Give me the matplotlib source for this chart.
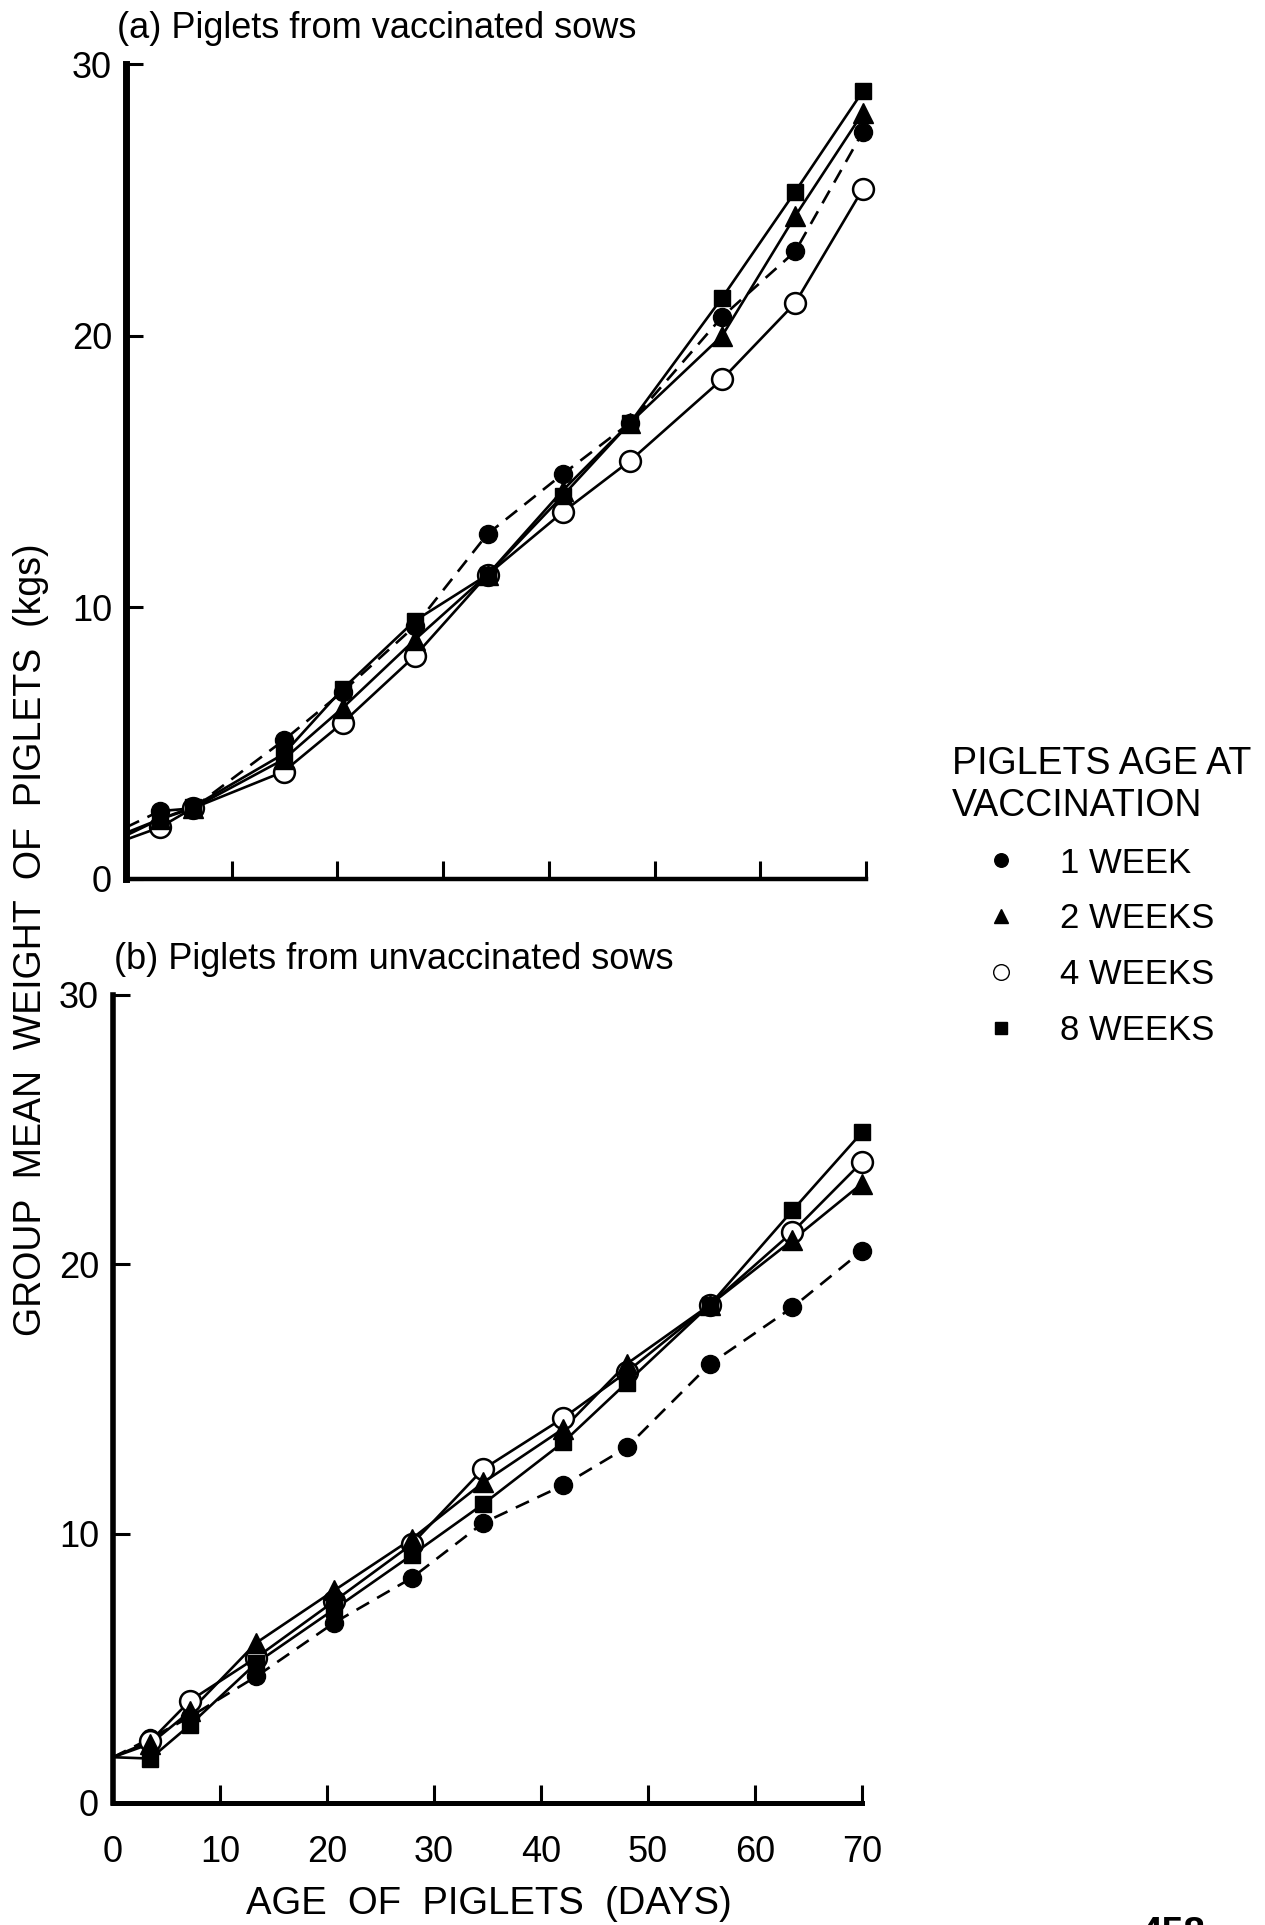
import matplotlib
matplotlib.use("Agg")
import matplotlib.pyplot as plt
from matplotlib.lines import Line2D

plt.rcParams['font.family'] = ['Liberation Sans', 'DejaVu Sans']
NARROW = ['Liberation Sans Narrow', 'Liberation Sans', 'DejaVu Sans']

# ---- data: group mean weight (kg) by age of piglets (days) ----
groups = ["1 WEEK", "2 WEEKS", "4 WEEKS", "8 WEEKS"]

# (a) piglets from vaccinated sows
days_a = [0, 3.2, 6.3, 14.9, 20.5, 27.3, 34.2, 41.3, 47.7, 56.4, 63.3, 69.7]
wk1_a = [1.9, 2.5, 2.6, 5.1, 6.9, 9.3, 12.7, 14.9, 16.8, 20.7, 23.1, 27.5]
wk2_a = [1.7, 2.2, 2.6, 4.4, 6.3, 8.8, 11.2, 14.3, 16.8, 20.0, 24.4, 28.2]
wk4_a = [1.45, 1.9, 2.6, 3.95, 5.75, 8.2, 11.2, 13.5, 15.4, 18.4, 21.2, 25.4]
wk8_a = [1.6, 2.2, 2.65, 4.6, 7.0, 9.5, 11.2, 14.1, 16.8, 21.4, 25.3, 29.0]

# (b) piglets from unvaccinated sows
days_b = [0, 3.5, 7.2, 13.4, 20.7, 27.9, 34.6, 42.1, 48.0, 55.8, 63.5, 70.0]
wk1_b = [1.7, 2.4, 3.2, 4.7, 6.7, 8.35, 10.4, 11.8, 13.2, 16.3, 18.4, 20.5]
wk2_b = [1.7, 2.2, 3.4, 5.95, 7.9, 9.8, 11.9, 13.9, 16.3, 18.5, 20.9, 23.0]
wk4_b = [1.7, 2.3, 3.8, 5.4, 7.5, 9.6, 12.4, 14.3, 16.0, 18.5, 21.2, 23.8]
wk8_b = [1.7, 1.65, 2.9, 5.2, 7.2, 9.2, 11.1, 13.4, 15.6, 18.5, 22.0, 24.9]

x_ticks = [0, 10, 20, 30, 40, 50, 60, 70]
y_ticks = [0, 10, 20, 30]

# marker / line style per group
styles = {
    "1 WEEK": dict(marker='o', ms=13, mfc='black', mec='black', ls=(0, (5.5, 3.5))),
    "2 WEEKS": dict(marker='^', ms=14, mfc='black', mec='black', ls='-'),
    "4 WEEKS": dict(marker='o', ms=15, mfc='white', mec='black', mew=1.8, ls='-'),
    "8 WEEKS": dict(marker='s', ms=12, mfc='black', mec='black', ls='-'),
}
draw_order = ["1 WEEK", "4 WEEKS", "2 WEEKS", "8 WEEKS"]

W, H = 1265, 1925
fig = plt.figure(figsize=(W / 100, H / 100), dpi=100)


def panel(rect, days, series, spine_w, show_xlabels):
    ax = fig.add_axes(rect)
    for name in draw_order:
        st = dict(styles[name])
        ls = st.pop('ls')
        # first value (day 0) is drawn as line only
        ax.plot(days, series[name], color='black', lw=1.9, ls=ls,
                marker='none', clip_on=False, zorder=2)
        ax.plot(days[1:], series[name][1:], color='black', ls='none',
                clip_on=False, zorder=3, **st)
    ax.set_xlim(0, 70)
    ax.set_ylim(0, 30)
    for s in ('top', 'right'):
        ax.spines[s].set_visible(False)
    ax.spines['left'].set_linewidth(spine_w[0])
    ax.spines['bottom'].set_linewidth(spine_w[1])
    ax.set_xticks(x_ticks)
    ax.set_yticks(y_ticks)
    ax.tick_params(axis='x', direction='in', length=13, width=2.2,
                   pad=23, labelsize=26)
    ax.tick_params(axis='y', direction='in', length=12, width=2.2,
                   pad=10, labelsize=26)
    for lab in ax.get_yticklabels() + ax.get_xticklabels():
        lab.set_family(NARROW)
    if not show_xlabels:
        ax.set_xticklabels([])
    return ax


ax_a = panel([126 / W, 1 - 879 / H, (866 - 126) / W, (879 - 64) / H], days_a,
             {"1 WEEK": wk1_a, "2 WEEKS": wk2_a, "4 WEEKS": wk4_a, "8 WEEKS": wk8_a},
             (5.0, 3.2), False)
ax_b = panel([113 / W, 1 - 1803 / H, (862 - 113) / W, (1803 - 995) / H], days_b,
             {"1 WEEK": wk1_b, "2 WEEKS": wk2_b, "4 WEEKS": wk4_b, "8 WEEKS": wk8_b},
             (4.0, 3.6), True)

# panel headings
fig.text(117 / W, 1 - 29 / H, "(a) Piglets from vaccinated sows",
         family=NARROW, fontsize=26, ha='left', va='center')
fig.text(114 / W, 1 - 960 / H, "(b) Piglets from unvaccinated sows",
         family=NARROW, fontsize=26, ha='left', va='center')

# shared axis titles
fig.text(31 / W, 1 - 940 / H, "GROUP  MEAN  WEIGHT  OF  PIGLETS  (kgs)",
         rotation=90, fontsize=27, ha='center', va='center')
fig.text(489 / W, 1 - 1904 / H, "AGE  OF  PIGLETS  (DAYS)",
         fontsize=27.5, ha='center', va='center')

# key
handles = []
for name in groups:
    st = dict(styles[name])
    st.pop('ls')
    st['ms'] = st['ms'] * 0.75
    if 'mew' in st:
        st['mew'] = 1.0
    handles.append(Line2D([], [], color='black', ls='none', **st))
leg = fig.legend(handles, groups, loc='upper left',
                 bbox_to_anchor=(952 / W, 1 - 746 / H),
                 title="PIGLETS AGE AT\nVACCINATION", alignment='left',
                 frameon=False, fontsize=25, title_fontsize=27,
                 borderpad=0, borderaxespad=0, handlelength=2.8,
                 handletextpad=0.3, labelspacing=0.66)

# page number at the foot of the sheet
fig.text(1140 / W, 1 - 1916 / H, "458", fontsize=28, fontweight='bold',
         ha='left', va='top')

fig.savefig("out.png", dpi=100)
